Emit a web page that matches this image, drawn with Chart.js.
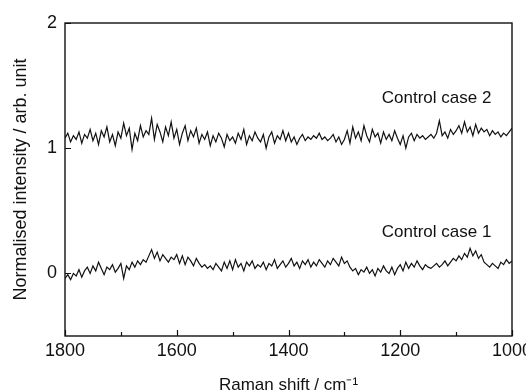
<!DOCTYPE html>
<html>
<head>
<meta charset="utf-8">
<script src="https://cdn.jsdelivr.net/npm/chart.js@4/dist/chart.umd.min.js"></script>
<style>
  html, body { margin: 0; padding: 0; background: #fff; }
  #wrap { width: 526px; height: 392px; }
</style>
</head>
<body>
<div id="wrap"><canvas id="chart"></canvas></div>
<script>
// Raman shift sampling (cm-1), 1800 -> 1000 in 5 cm-1 steps
const shift = [
  1800, 1795, 1790, 1785, 1780, 1775, 1770, 1765, 1760, 1755,
  1750, 1745, 1740, 1735, 1730, 1725, 1720, 1715, 1710, 1705,
  1700, 1695, 1690, 1685, 1680, 1675, 1670, 1665, 1660, 1655,
  1650, 1645, 1640, 1635, 1630, 1625, 1620, 1615, 1610, 1605,
  1600, 1595, 1590, 1585, 1580, 1575, 1570, 1565, 1560, 1555,
  1550, 1545, 1540, 1535, 1530, 1525, 1520, 1515, 1510, 1505,
  1500, 1495, 1490, 1485, 1480, 1475, 1470, 1465, 1460, 1455,
  1450, 1445, 1440, 1435, 1430, 1425, 1420, 1415, 1410, 1405,
  1400, 1395, 1390, 1385, 1380, 1375, 1370, 1365, 1360, 1355,
  1350, 1345, 1340, 1335, 1330, 1325, 1320, 1315, 1310, 1305,
  1300, 1295, 1290, 1285, 1280, 1275, 1270, 1265, 1260, 1255,
  1250, 1245, 1240, 1235, 1230, 1225, 1220, 1215, 1210, 1205,
  1200, 1195, 1190, 1185, 1180, 1175, 1170, 1165, 1160, 1155,
  1150, 1145, 1140, 1135, 1130, 1125, 1120, 1115, 1110, 1105,
  1100, 1095, 1090, 1085, 1080, 1075, 1070, 1065, 1060, 1055,
  1050, 1045, 1040, 1035, 1030, 1025, 1020, 1015, 1010, 1005,
  1000
];

const case1 = [
  -0.04, -0.01, -0.05, 0.00, -0.02, 0.03, -0.03, 0.02, 0.05, 0.00,
  0.06, 0.02, 0.09, 0.04, -0.01, 0.05, 0.03, 0.07, 0.01, 0.04,
  0.08, -0.04, 0.06, 0.03, 0.09, 0.05, 0.10, 0.07, 0.11, 0.09,
  0.14, 0.19, 0.12, 0.17, 0.10, 0.15, 0.12, 0.09, 0.13, 0.11,
  0.15, 0.08, 0.14, 0.07, 0.13, 0.10, 0.06, 0.12, 0.08, 0.05,
  0.07, 0.04, 0.06, 0.03, 0.08, 0.05, 0.02, 0.09, 0.04, 0.10,
  0.03, 0.11, 0.05, 0.08, 0.02, 0.09, 0.06, 0.10, 0.04, 0.07,
  0.05, 0.09, 0.03, 0.08, 0.06, 0.11, 0.04, 0.07, 0.10, 0.05,
  0.08, 0.12, 0.06, 0.09, 0.04, 0.10, 0.07, 0.11, 0.05, 0.09,
  0.06, 0.11, 0.08, 0.05, 0.10, 0.07, 0.12, 0.09, 0.06, 0.13,
  0.08, 0.10, 0.05, 0.02, 0.04, -0.01, 0.03, 0.01, 0.05, 0.00,
  0.03, -0.02, 0.04, 0.01, 0.06, 0.02, 0.00, 0.05, -0.01, 0.04,
  0.07, 0.02, 0.09, 0.04, 0.08, 0.05, 0.10, 0.06, 0.03, 0.07,
  0.05, 0.04, 0.06, 0.08, 0.05, 0.07, 0.10, 0.06, 0.09, 0.12,
  0.10, 0.14, 0.11, 0.16, 0.13, 0.20, 0.14, 0.18, 0.12, 0.15,
  0.09, 0.07, 0.05, 0.08, 0.06, 0.04, 0.09, 0.07, 0.11, 0.08,
  0.10
];

const case2 = [
  1.08, 1.12, 1.05, 1.10, 1.07, 1.13, 1.04, 1.11, 1.08, 1.15,
  1.06, 1.12, 1.03, 1.14, 1.09, 1.17, 1.05, 1.11, 1.02, 1.13,
  1.08, 1.20, 1.10, 1.16, 0.99, 1.12, 1.06, 1.18, 1.09, 1.14,
  1.11, 1.24, 1.07, 1.19, 1.13, 1.05, 1.17, 1.10, 1.21, 1.08,
  1.15, 1.03, 1.12, 1.18, 1.06, 1.14, 1.09, 1.16, 1.04, 1.11,
  1.07, 1.13, 1.02, 1.10, 1.05, 1.12, 1.08, 1.01, 1.11, 1.06,
  1.09, 1.04, 1.12, 1.07, 1.15, 1.03, 1.10, 1.06, 1.13, 1.08,
  1.05, 1.11, 1.00, 1.09, 1.13, 1.04, 1.10, 1.07, 1.14, 1.06,
  1.12, 1.05, 1.09, 1.03, 1.08, 1.11, 1.06, 1.09, 1.07, 1.10,
  1.08, 1.12, 1.07, 1.09, 1.06, 1.08, 1.11, 1.05, 1.09, 1.03,
  1.07, 1.14, 1.04, 1.17, 1.08, 1.13, 1.06, 1.18, 1.10, 1.05,
  1.15, 1.09, 1.12, 1.04, 1.13, 1.07, 1.11, 1.06, 1.14, 1.08,
  1.03, 1.10, 1.00, 1.09, 1.12, 1.06, 1.11, 1.08, 1.10, 1.07,
  1.09, 1.11, 1.08, 1.12, 1.22, 1.10, 1.13, 1.08, 1.15, 1.11,
  1.14, 1.18, 1.12, 1.21, 1.13, 1.17, 1.10, 1.19, 1.12, 1.16,
  1.13, 1.15, 1.10, 1.14, 1.11, 1.13, 1.09, 1.12, 1.10, 1.13,
  1.16
];

const xMajor = [1800, 1600, 1400, 1200, 1000];
const xMinor = [1700, 1500, 1300, 1100];
const yTicks = [0, 1, 2];

const seriesNames = ["Control case 1", "Control case 2"];
const FONT = "'Liberation Sans', Arial, sans-serif";

const toPoints = (ys) => ys.map((y, i) => ({ x: shift[i], y }));

// box around the plot, inward tick marks and the in-plot series labels
const framePlugin = {
  id: "frame",
  afterDatasetsDraw(chart) {
    const { ctx, chartArea: a, scales } = chart;
    const x = scales.x, y = scales.y;
    ctx.save();
    ctx.strokeStyle = "#111";
    ctx.lineWidth = 1.4;
    ctx.strokeRect(a.left, a.top, a.right - a.left, a.bottom - a.top);

    ctx.lineWidth = 1.2;
    ctx.beginPath();
    xMajor.forEach((v) => {
      const px = Math.round(x.getPixelForValue(v)) + 0.5;
      ctx.moveTo(px, a.bottom); ctx.lineTo(px, a.bottom - 6);
    });
    xMinor.forEach((v) => {
      const px = Math.round(x.getPixelForValue(v)) + 0.5;
      ctx.moveTo(px, a.bottom); ctx.lineTo(px, a.bottom - 4);
    });
    yTicks.forEach((v) => {
      const py = Math.round(y.getPixelForValue(v)) + 0.5;
      ctx.moveTo(a.left, py); ctx.lineTo(a.left + 6, py);
    });
    ctx.stroke();

    ctx.fillStyle = "#111";
    ctx.font = "17px " + FONT;
    ctx.textAlign = "center";
    ctx.textBaseline = "middle";
    ctx.fillText(seriesNames[1], x.getPixelForValue(1135), y.getPixelForValue(1.395));
    ctx.fillText(seriesNames[0], x.getPixelForValue(1135), y.getPixelForValue(0.33));
    ctx.restore();
  }
};

new Chart(document.getElementById("chart"), {
  type: "line",
  data: {
    datasets: [
      { label: seriesNames[0], data: toPoints(case1) },
      { label: seriesNames[1], data: toPoints(case2) }
    ].map((d) => ({
      ...d,
      borderColor: "#111",
      borderWidth: 1.2,
      pointRadius: 0,
      tension: 0,
      fill: false
    }))
  },
  options: {
    responsive: true,
    maintainAspectRatio: false,
    animation: false,
    events: [],
    layout: { padding: { top: 23, right: 14, left: 0, bottom: 0 } },
    plugins: { legend: { display: false }, tooltip: { enabled: false } },
    scales: {
      x: {
        type: "linear",
        reverse: true,
        min: 1000,
        max: 1800,
        afterFit: (s) => { s.height = 56; s.paddingLeft = 0; s.paddingRight = 0; },
        afterBuildTicks: (s) => { s.ticks = xMajor.map((v) => ({ value: v })); },
        grid: { display: false, drawTicks: false },
        border: { display: false },
        ticks: {
          color: "#111",
          padding: 4,
          maxRotation: 0,
          font: { size: 18, family: FONT },
          callback: (v) => String(v)
        },
        title: {
          display: true,
          text: "Raman shift / cm\u207B\u00B9",
          color: "#111",
          padding: { top: 0, bottom: -4 },
          font: { size: 17, family: FONT }
        }
      },
      y: {
        min: -0.5,
        max: 2,
        afterFit: (s) => { s.width = 65; s.paddingTop = 0; s.paddingBottom = 0; },
        afterBuildTicks: (s) => { s.ticks = yTicks.map((v) => ({ value: v })); },
        grid: { display: false, drawTicks: false },
        border: { display: false },
        ticks: {
          color: "#111",
          padding: 8,
          font: { size: 18, family: FONT },
          callback: (v) => String(v)
        },
        title: {
          display: true,
          text: "Normalised intensity / arb. unit",
          color: "#111",
          padding: { top: 10, bottom: 0 },
          font: { size: 18, family: FONT }
        }
      }
    }
  },
  plugins: [framePlugin]
});
</script>
</body>
</html>
